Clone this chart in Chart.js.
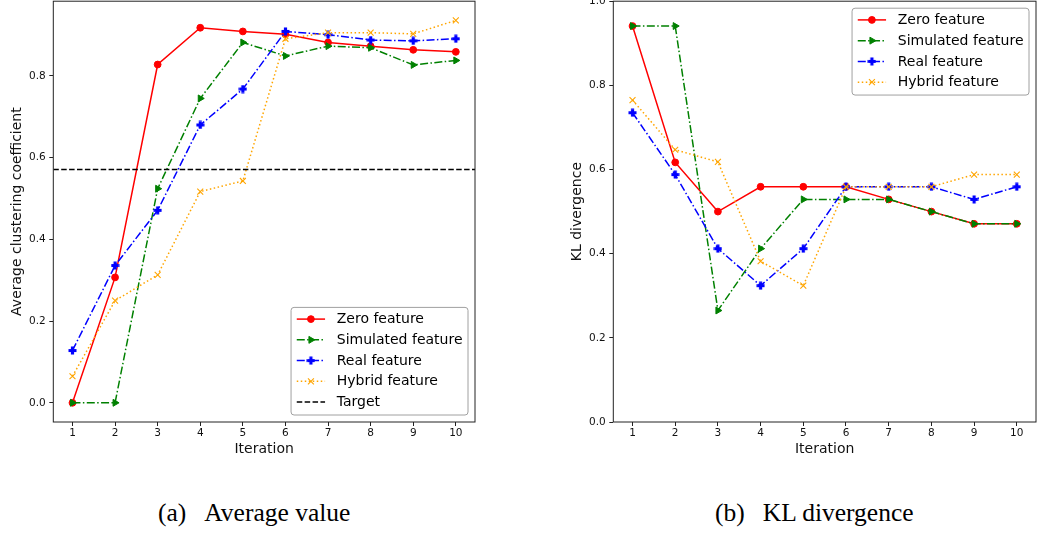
<!DOCTYPE html>
<html>
<head>
<meta charset="utf-8">
<script src="https://cdn.jsdelivr.net/npm/chart.js@4.4.0/dist/chart.umd.min.js"></script>
<style>
  html, body { margin: 0; padding: 0; background: #fff; }
  body { width: 1038px; height: 534px; position: relative; overflow: hidden; }
  canvas { position: absolute; top: 0; }
  #avgChart { left: 0; }
  #klChart { left: 560px; }
  .cap { position: absolute; font-family: "Liberation Serif", "Times New Roman", serif; color: #000;
         white-space: nowrap; line-height: 1; font-size: 25.5px; }
  .cap .gap { display: inline-block; width: 18px; }
</style>
</head>
<body>
<canvas id="avgChart" width="490" height="470"></canvas>
<canvas id="klChart" width="478" height="470"></canvas>
<div class="cap" style="left:158px; top:500px">(a)<span class="gap"></span>Average value</div>
<div class="cap" style="left:715px; top:500px">(b)<span class="gap"></span>KL divergence</div>
<script>
// Iterations on the x axis
const iterations = [1, 2, 3, 4, 5, 6, 7, 8, 9, 10];
const seriesLabels = ['Zero feature', 'Simulated feature', 'Real feature', 'Hybrid feature'];
const targetLabel = 'Target';

// (a) Average clustering coefficient per iteration
const avgZero      = [0.000, 0.307, 0.828, 0.918, 0.909, 0.902, 0.882, 0.873, 0.864, 0.859];
const avgSimulated = [0.000, 0.000, 0.524, 0.745, 0.882, 0.849, 0.873, 0.869, 0.827, 0.838];
const avgReal      = [0.128, 0.336, 0.471, 0.680, 0.768, 0.909, 0.901, 0.888, 0.886, 0.891];
const avgHybrid    = [0.065, 0.250, 0.313, 0.517, 0.543, 0.891, 0.906, 0.906, 0.903, 0.936];
const avgTarget    = 0.571;

// (b) KL divergence per iteration
const klZero      = [0.941, 0.617, 0.500, 0.559, 0.559, 0.559, 0.529, 0.500, 0.471, 0.471];
const klSimulated = [0.941, 0.941, 0.265, 0.412, 0.529, 0.529, 0.529, 0.500, 0.471, 0.471];
const klReal      = [0.735, 0.588, 0.412, 0.324, 0.412, 0.559, 0.559, 0.559, 0.529, 0.559];
const klHybrid    = [0.765, 0.647, 0.618, 0.382, 0.324, 0.559, 0.559, 0.559, 0.588, 0.588];

// Tick values
const xTicks = [1, 2, 3, 4, 5, 6, 7, 8, 9, 10];
const avgYTicks = [0.0, 0.2, 0.4, 0.6, 0.8];
const klYTicks = [0.0, 0.2, 0.4, 0.6, 0.8, 1.0];

// Axis ranges
const xRange = [0.55, 10.45];
const avgYRange = [-0.047, 0.983];
const klYRange = [0.0, 1.0];

const FONT = '"DejaVu Sans", "Liberation Sans", sans-serif';

// Filled plus marker (canvas used as a point style)
function plusMarker(color) {
  const s = 9, m = s / 2, a = 4, t = 1.6;
  const c = document.createElement('canvas');
  c.width = s; c.height = s;
  const g = c.getContext('2d');
  g.fillStyle = color;
  g.beginPath();
  g.moveTo(m - t, m - a); g.lineTo(m + t, m - a); g.lineTo(m + t, m - t);
  g.lineTo(m + a, m - t); g.lineTo(m + a, m + t); g.lineTo(m + t, m + t);
  g.lineTo(m + t, m + a); g.lineTo(m - t, m + a); g.lineTo(m - t, m + t);
  g.lineTo(m - a, m + t); g.lineTo(m - a, m - t); g.lineTo(m - t, m - t);
  g.closePath();
  g.fill();
  return c;
}

const DASHDOT = [8, 2.4, 1.5, 2.4];
const seriesStyles = [
  { color: '#ff0000', dash: [],        point: 'circle',   radius: 3.4, rotation: 0,  pbw: 1 },
  { color: '#008000', dash: DASHDOT,   point: 'triangle', radius: 4.0, rotation: 90, pbw: 1 },
  { color: '#0000ff', dash: DASHDOT,   point: plusMarker('#0000ff'), radius: 4.5, rotation: 0, pbw: 0 },
  { color: '#ffa500', dash: [1.5, 2.5], point: 'crossRot', radius: 4.2, rotation: 0, pbw: 1.1 }
];

function seriesDataset(idx, values) {
  const st = seriesStyles[idx];
  return {
    label: seriesLabels[idx],
    data: iterations.map((x, i) => ({ x: x, y: values[i] })),
    borderColor: st.color,
    backgroundColor: st.color,
    borderWidth: 1.5,
    borderDash: st.dash,
    fill: false,
    tension: 0,
    pointStyle: st.point,
    pointRadius: st.radius,
    pointHoverRadius: st.radius,
    pointRotation: st.rotation,
    pointBackgroundColor: st.color,
    pointBorderColor: st.color,
    pointBorderWidth: st.pbw,
    order: -idx
  };
}

function targetDataset(value) {
  return {
    label: targetLabel,
    data: [{ x: xRange[0], y: value }, { x: xRange[1], y: value }],
    borderColor: '#000000',
    borderWidth: 1.5,
    borderDash: [5.5, 2.4],
    pointRadius: 0,
    pointHoverRadius: 0,
    fill: false,
    order: -10
  };
}

// Axes frame drawn over the lines
const frame = {
  id: 'frame',
  afterDatasetsDraw(chart) {
    const { ctx, chartArea: a } = chart;
    ctx.save();
    ctx.strokeStyle = '#222';
    ctx.lineWidth = 1;
    ctx.setLineDash([]);
    ctx.strokeRect(a.left, a.top, a.right - a.left, a.bottom - a.top);
    ctx.restore();
  }
};

// Framed legend placed inside a corner of the plot area
const boxLegend = {
  id: 'boxLegend',
  afterDraw(chart, args, opts) {
    const { ctx, chartArea: area } = chart;
    const items = chart.data.datasets;
    ctx.save();
    ctx.font = '14px ' + FONT;
    const textW = Math.max(...items.map(d => ctx.measureText(d.label).width));
    const rowH = 20.75, padTop = 11.7, padBottom = 12.9, inset = 7;
    const w = 45.7 + textW + 5.5;
    const h = padTop + rowH * (items.length - 1) + padBottom;
    const x = area.right - inset - w;
    const y = opts.corner === 'upper' ? area.top + inset : area.bottom - inset - h;

    ctx.beginPath();
    if (ctx.roundRect) ctx.roundRect(x, y, w, h, 3); else ctx.rect(x, y, w, h);
    ctx.fillStyle = 'rgba(255,255,255,0.85)';
    ctx.fill();
    ctx.strokeStyle = '#a0a0a0';
    ctx.lineWidth = 1;
    ctx.stroke();

    items.forEach((d, i) => {
      const cy = y + padTop + rowH * i;
      const x0 = x + 5.7, x1 = x + 34;
      ctx.save();
      ctx.strokeStyle = d.borderColor;
      ctx.lineWidth = d.borderWidth;
      ctx.setLineDash(d.borderDash || []);
      ctx.beginPath();
      ctx.moveTo(x0, cy);
      ctx.lineTo(x1, cy);
      ctx.stroke();
      ctx.restore();
      if (d.pointRadius > 0 && Chart.helpers && Chart.helpers.drawPoint) {
        ctx.save();
        ctx.setLineDash([]);
        ctx.fillStyle = d.pointBackgroundColor;
        ctx.strokeStyle = d.pointBorderColor;
        ctx.lineWidth = d.pointBorderWidth;
        Chart.helpers.drawPoint(ctx, {
          pointStyle: d.pointStyle, radius: d.pointRadius,
          rotation: d.pointRotation || 0, borderWidth: d.pointBorderWidth
        }, (x0 + x1) / 2, cy);
        ctx.restore();
      }
      ctx.fillStyle = '#000';
      ctx.textAlign = 'left';
      ctx.textBaseline = 'middle';
      ctx.fillText(d.label, x + 45.7, cy + 0.5);
    });
    ctx.restore();
  }
};

function makeOptions(yRange, yTicks, yTitle, legendCorner, padRight, padTop) {
  const tickGrid = { display: true, drawOnChartArea: false, drawTicks: true, tickLength: 4,
                     color: '#222', lineWidth: 1 };
  return {
    responsive: false,
    animation: false,
    devicePixelRatio: 1,
    layout: { autoPadding: false, padding: { left: 0, right: padRight, top: padTop, bottom: 0 } },
    plugins: {
      legend: { display: false },
      tooltip: { enabled: false },
      boxLegend: { corner: legendCorner }
    },
    scales: {
      x: {
        type: 'linear',
        min: xRange[0], max: xRange[1],
        grid: tickGrid,
        border: { display: false },
        afterBuildTicks: s => { s.ticks = xTicks.map(v => ({ value: v })); },
        afterFit: s => { s.height = 48; s.paddingLeft = 0; s.paddingRight = 0; },
        ticks: { color: '#111', font: { family: FONT, size: 10.5 }, padding: 1, maxRotation: 0,
                 autoSkip: false, callback: v => String(v) },
        title: { display: true, text: 'Iteration', color: '#111',
                 font: { family: FONT, size: 14 }, padding: { top: 0, bottom: 12.3 } }
      },
      y: {
        type: 'linear',
        min: yRange[0], max: yRange[1],
        grid: tickGrid,
        border: { display: false },
        afterBuildTicks: s => { s.ticks = yTicks.map(v => ({ value: v })); },
        afterFit: s => { s.width = 53.3; s.paddingTop = 0; s.paddingBottom = 0; },
        ticks: { color: '#111', font: { family: FONT, size: 10.5 }, padding: 3.5,
                 callback: v => Number(v).toFixed(1) },
        title: { display: true, text: yTitle, color: '#111',
                 font: { family: FONT, size: 14 }, padding: { top: 8.6, bottom: 0 } }
      }
    }
  };
}

new Chart(document.getElementById('avgChart'), {
  type: 'line',
  data: {
    datasets: [
      seriesDataset(0, avgZero),
      seriesDataset(1, avgSimulated),
      seriesDataset(2, avgReal),
      seriesDataset(3, avgHybrid),
      targetDataset(avgTarget)
    ]
  },
  options: makeOptions(avgYRange, avgYTicks, 'Average clustering coefficient', 'lower', 15, 1.2),
  plugins: [frame, boxLegend]
});

new Chart(document.getElementById('klChart'), {
  type: 'line',
  data: {
    datasets: [
      seriesDataset(0, klZero),
      seriesDataset(1, klSimulated),
      seriesDataset(2, klReal),
      seriesDataset(3, klHybrid)
    ]
  },
  options: makeOptions(klYRange, klYTicks, 'KL divergence', 'upper', 2, 1.2),
  plugins: [frame, boxLegend]
});
</script>
</body>
</html>
